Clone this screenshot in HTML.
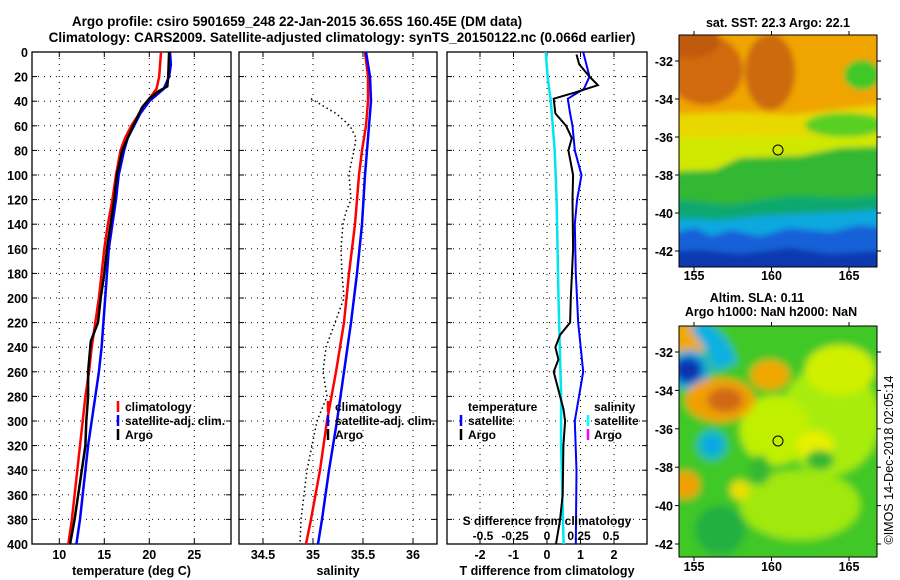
<!DOCTYPE html>
<html><head><meta charset="utf-8"><style>
html,body{margin:0;padding:0;background:#fff;}
svg{display:block;font-family:"Liberation Sans",sans-serif;font-weight:bold;}
</style></head><body>
<svg id="c" width="900" height="580" viewBox="0 0 900 580" xmlns="http://www.w3.org/2000/svg">
<defs>
<filter id="bl" x="-5%" y="-5%" width="110%" height="110%"><feGaussianBlur stdDeviation="3"/></filter>
<filter id="bl2" x="-5%" y="-5%" width="110%" height="110%"><feGaussianBlur stdDeviation="4"/></filter>
<clipPath id="cm1"><rect x="679" y="35" width="198" height="232"/></clipPath>
<clipPath id="cm2"><rect x="679" y="326" width="198" height="231"/></clipPath>
<clipPath id="cp1"><rect x="32" y="52" width="199" height="492"/></clipPath>
<clipPath id="cp2"><rect x="239" y="52" width="198" height="492"/></clipPath>
<clipPath id="cp3"><rect x="447" y="52" width="200" height="492"/></clipPath>
</defs>
<text x="297" y="26" font-size="13.5" text-anchor="middle">Argo profile: csiro 5901659_248 22-Jan-2015 36.65S 160.45E (DM data)</text>
<text x="342" y="42" font-size="13.5" text-anchor="middle">Climatology: CARS2009. Satellite-adjusted climatology: synTS_20150122.nc (0.066d earlier)</text>

<!-- SST map -->
<g clip-path="url(#cm1)">
<g filter="url(#bl)">
<rect x="660" y="15" width="240" height="280" fill="#f0a400"/>
<ellipse cx="705" cy="70" rx="38" ry="35" fill="#d06a10"/>
<ellipse cx="770" cy="72" rx="25" ry="38" fill="#cc6a10"/>
<ellipse cx="690" cy="40" rx="30" ry="18" fill="#c05a10"/>
<path d="M660 115 L740 112 L790 115 L877 105 L900 105 L900 180 L660 180Z" fill="#e8d800"/>
<path d="M660 138 L900 135 L900 180 L660 180Z" fill="#d0e800"/>
<ellipse cx="862" cy="75" rx="18" ry="15" fill="#40c828"/>
<ellipse cx="845" cy="125" rx="40" ry="12" fill="#58d020"/>
<path d="M660 172 L715 170 L740 158 L800 156 L840 148 L900 146 L900 300 L660 300Z" fill="#30b830"/>
<path d="M660 198 L730 205 L790 196 L850 198 L900 193 L900 300 L660 300Z" fill="#10a870"/>
<path d="M660 218 L720 220 L760 216 L800 214 L850 212 L900 208 L900 300 L660 300Z" fill="#10a8e0"/>
<path d="M660 236 L695 228 L712 236 L730 230 L760 236 L790 228 L830 232 L860 225 L900 230 L900 300 L660 300Z" fill="#1460d8"/>
<path d="M660 252 L700 250 L740 254 L790 248 L830 254 L900 250 L900 300 L660 300Z" fill="#0838b0"/>
</g>
<circle cx="778" cy="150" r="5" fill="none" stroke="#000" stroke-width="1"/>
</g>
<rect x="679" y="35" width="198" height="232" fill="none" stroke="#000"/>

<!-- SLA map -->
<g clip-path="url(#cm2)">
<g filter="url(#bl2)">
<rect x="660" y="305" width="240" height="270" fill="#40c828"/>
<ellipse cx="830" cy="420" rx="50" ry="55" fill="#a8ec10"/>
<ellipse cx="775" cy="430" rx="35" ry="35" fill="#c0f000"/>
<ellipse cx="800" cy="505" rx="60" ry="35" fill="#a0e810"/>
<ellipse cx="840" cy="370" rx="35" ry="25" fill="#d0f000"/>
<ellipse cx="815" cy="445" rx="18" ry="14" fill="#e8f000"/>
<ellipse cx="690" cy="338" rx="18" ry="18" fill="#f0a800"/>
<path d="M700 318 C722 330 732 345 737 362 L715 372 C710 355 700 340 690 330Z" fill="#10b0e0"/>
<ellipse cx="690" cy="370" rx="20" ry="20" fill="#10a8e0"/>
<ellipse cx="688" cy="370" rx="14" ry="13" fill="#1030b0"/>
<ellipse cx="770" cy="375" rx="20" ry="15" fill="#f0a800"/>
<ellipse cx="720" cy="400" rx="35" ry="22" fill="#f0a000"/>
<ellipse cx="725" cy="400" rx="18" ry="12" fill="#d06818"/>
<ellipse cx="712" cy="445" rx="15" ry="15" fill="#10b8c8"/>
<ellipse cx="712" cy="445" rx="7" ry="7" fill="#10a0f0"/>
<ellipse cx="685" cy="485" rx="15" ry="14" fill="#f0a000"/>
<ellipse cx="760" cy="470" rx="10" ry="15" fill="#30b830"/>
<ellipse cx="820" cy="460" rx="14" ry="10" fill="#30b830"/>
<ellipse cx="720" cy="530" rx="25" ry="25" fill="#20b040"/>
<ellipse cx="740" cy="490" rx="10" ry="10" fill="#e8e000"/>
</g>
<circle cx="778" cy="441" r="5" fill="none" stroke="#000" stroke-width="1"/>
</g>
<rect x="679" y="326" width="198" height="231" fill="none" stroke="#000"/>

<text x="778" y="27" font-size="12.5" text-anchor="middle">sat. SST: 22.3 Argo: 22.1</text>
<text x="757" y="302" font-size="12.5" text-anchor="middle">Altim. SLA: 0.11</text>
<text x="771" y="316" font-size="12.5" text-anchor="middle">Argo h1000: NaN h2000: NaN</text>
<text transform="translate(893,460) rotate(-90)" font-size="12.5" font-weight="normal" text-anchor="middle">©IMOS 14-Dec-2018 02:05:14</text>

<g id="plots"></g>

<!-- legends -->
<g font-size="12">
<line x1="118" y1="401" x2="118" y2="412" stroke="#f00" stroke-width="2.5"/><text x="125" y="411">climatology</text>
<line x1="118" y1="415" x2="118" y2="426" stroke="#00f" stroke-width="2.5"/><text x="125" y="425">satellite-adj. clim.</text>
<line x1="118" y1="429" x2="118" y2="440" stroke="#000" stroke-width="2.5"/><text x="125" y="439">Argo</text>
</g>
<g font-size="12">
<line x1="328" y1="401" x2="328" y2="412" stroke="#f00" stroke-width="2.5"/><text x="335" y="411">climatology</text>
<line x1="328" y1="415" x2="328" y2="426" stroke="#00f" stroke-width="2.5"/><text x="335" y="425">satellite-adj. clim.</text>
<line x1="328" y1="429" x2="328" y2="440" stroke="#000" stroke-width="2.5"/><text x="335" y="439">Argo</text>
</g>
<g font-size="12">
<text x="468" y="411">temperature</text>
<line x1="461" y1="415" x2="461" y2="426" stroke="#00f" stroke-width="2.5"/><text x="468" y="425">satellite</text>
<line x1="461" y1="429" x2="461" y2="440" stroke="#000" stroke-width="2.5"/><text x="468" y="439">Argo</text>
<text x="594" y="411">salinity</text>
<line x1="588" y1="415" x2="588" y2="426" stroke="#0ff" stroke-width="2.5"/><text x="594" y="425">satellite</text>
<line x1="588" y1="429" x2="588" y2="440" stroke="#f0f" stroke-width="2.5"/><text x="594" y="439">Argo</text>
</g>
<text x="547" y="525" font-size="12" text-anchor="middle">S difference from climatology</text>

<script>
// ---- data ----
const depthTicks = [0,20,40,60,80,100,120,140,160,180,200,220,240,260,280,300,320,340,360,380,400];
const tempTicks = [10,15,20,25];
const salTicks = [34.5,35,35.5,36];
const tdiffTicks = [-2,-1,0,1,2];
const sdiffTicks = [-0.5,-0.25,0,0.25,0.5];
const sdiffTickLabels = ['-0.5','-0.25','0','0.25','0.5'];
const lonTicks = [155,160,165];
const latTicks = [-32,-34,-36,-38,-40,-42];

const tClimDepth = [0,20,30,40,50,60,70,80,100,120,140,160,180,200,220,240,260,280,300,320,340,360,380,400];
const tClim = [21.3,21.1,20.8,19.8,18.9,18.0,17.3,16.8,16.3,15.9,15.4,15.0,14.7,14.4,14.0,13.6,13.3,12.9,12.6,12.3,12.0,11.7,11.4,11.0];
const tSatDepth = [0,10,20,30,40,50,60,70,80,100,120,140,160,180,200,220,240,260,280,300,320,340,360,380,400];
const tSat = [22.3,22.4,22.2,21.6,20.0,19.0,18.3,17.6,17.2,16.6,16.3,15.9,15.5,15.3,15.1,14.9,14.7,14.4,14.0,13.6,13.2,12.9,12.6,12.3,11.9];
const tArgoDepth = [0,20,28,32,38,45,60,80,100,120,140,160,180,200,220,235,260,280,300,320,340,360,380,400];
const tArgo = [22.2,22.1,22.0,21.0,20.0,19.2,18.2,17.0,16.4,16.1,15.7,15.3,15.0,14.6,14.3,13.5,13.2,13.2,13.0,12.9,12.5,12.1,11.7,11.2];

const sDepth = [0,20,40,60,80,100,140,180,220,260,300,340,380,400];
const sClim = [35.52,35.55,35.55,35.53,35.49,35.46,35.42,35.36,35.31,35.23,35.14,35.07,34.98,34.93];
const sSat = [35.53,35.57,35.58,35.56,35.54,35.52,35.49,35.44,35.38,35.31,35.24,35.16,35.09,35.05];
const sArgoDepth = [38,50,60,70,80,95,100,120,130,140,160,180,200,240,260,280,300,320,340,360,380,400];
const sArgo = [34.98,35.23,35.37,35.43,35.41,35.37,35.36,35.38,35.33,35.30,35.28,35.29,35.31,35.13,35.10,35.14,35.04,34.99,34.94,34.91,34.88,34.87];

const dSatDepth = [0,20,30,38,50,60,80,100,120,140,180,220,260,300,340,400];
const dSat = [1.08,1.27,1.1,0.62,0.69,0.76,0.83,1.03,0.90,0.83,0.86,0.93,1.08,0.83,0.88,0.86];
const dArgoDepth = [2,10,20,27,33,38,50,60,70,80,100,120,160,200,220,230,240,250,260,280,290,300,320,360,380,400];
const dArgo = [0.88,0.96,1.27,1.52,0.83,0.2,0.25,0.57,0.74,0.64,0.78,0.76,0.78,0.71,0.69,0.39,0.25,0.34,0.2,0.39,0.49,0.54,0.49,0.47,0.39,0.27];
const sSatDiffDepth = [0,20,40,80,120,200,280,320,400];
const sSatDiff = [-0.01,0.005,0.03,0.06,0.075,0.09,0.11,0.11,0.13];

// ---- scales ----
const Y0=52, Y1=544;
const yD = d => Y0 + d*(Y1-Y0)/400;
const xT = t => 59.3 + (t-10)*9;
const xS = s => 313 + (s-35)*100;
const xTd = t => 547 + t*33.5;
const xSd = s => 547 + s*128;

const NS='http://www.w3.org/2000/svg';
const root=document.getElementById('plots');
function mk(tag, attrs, parent){const e=document.createElementNS(NS,tag);for(const k in attrs)e.setAttribute(k,attrs[k]);(parent||root).appendChild(e);return e;}

function panel(name,x0,x1,xs,ticks,labels,title,clip,yLabels){
  const g=mk('g',{});
  
  
  ticks.forEach((t,i)=>{
    const gx=mk('line',{x1:xs(t),x2:xs(t),y1:Y0,y2:Y1,stroke:'#000','stroke-width':1,'stroke-dasharray':'1,5'},g);
    
    
    mk('line',{x1:xs(t),x2:xs(t),y1:Y1,y2:Y1-5,stroke:'#000'},g);
    mk('line',{x1:xs(t),x2:xs(t),y1:Y0,y2:Y0+5,stroke:'#000'},g);
    const tl=mk('text',{x:xs(t),y:Y1+15,'font-size':12.5,'text-anchor':'middle'},g);
    tl.textContent=labels[i];
    
    
  });
  depthTicks.forEach(d=>{
    if(d>0&&d<400){
      const gy=mk('line',{x1:x0,x2:x1,y1:yD(d),y2:yD(d),stroke:'#000','stroke-width':1,'stroke-dasharray':'1,5'},g);
      
      
    }
    mk('line',{x1:x0,x2:x0+5,y1:yD(d),y2:yD(d),stroke:'#000'},g);
    mk('line',{x1:x1,x2:x1-5,y1:yD(d),y2:yD(d),stroke:'#000'},g);
    if(yLabels){
      const yl=mk('text',{x:x0-4,y:yD(d)+5,'font-size':12.5,'text-anchor':'end'},g);
      yl.textContent=d;
      
      
    }
  });
  const fr=mk('rect',{x:x0,y:Y0,width:x1-x0,height:Y1-Y0,fill:'none',stroke:'#000','stroke-width':1.3},g);
  
  
  const at=mk('text',{x:(x0+x1)/2,y:575,'font-size':12.5,'text-anchor':'middle'},g);
  at.textContent=title;
  
  
  return g;
}
function line(g,xs,vals,depths,color,w,name,dash,clip){
  const pts=vals.map((v,i)=>xs(v).toFixed(1)+','+yD(depths[i]).toFixed(1)).join(' ');
  const p=mk('polyline',{points:pts,fill:'none',stroke:color,'stroke-width':w,'clip-path':'url(#'+clip+')'},g);
  if(dash)p.setAttribute('stroke-dasharray',dash);
  
  
}

const g1=panel('temperature-panel',32,231,xT,tempTicks,tempTicks.map(String),'temperature (deg C)','cp1',true);
line(g1,xT,tClim,tClimDepth,'#f00',2.5,'temperature-climatology-line',null,'cp1');
line(g1,xT,tSat,tSatDepth,'#00f',2.5,'temperature-satellite-line',null,'cp1');
line(g1,xT,tArgo,tArgoDepth,'#000',2.5,'temperature-argo-line',null,'cp1');

const g2=panel('salinity-panel',239,437,xS,salTicks,salTicks.map(String),'salinity','cp2',false);
line(g2,xS,sClim,sDepth,'#f00',2.5,'salinity-climatology-line',null,'cp2');
line(g2,xS,sSat,sDepth,'#00f',2.5,'salinity-satellite-line',null,'cp2');
line(g2,xS,sArgo,sArgoDepth,'#000',1.5,'salinity-argo-line','1.5,3','cp2');

const g3=panel('difference-panel',447,647,xTd,tdiffTicks,tdiffTicks.map(String),'T difference from climatology','cp3',false);
line(g3,xSd,sSatDiff,sSatDiffDepth,'#00e5f0',2.5,'salinity-satellite-diff-line',null,'cp3');
line(g3,xTd,dSat,dSatDepth,'#00f',2,'temperature-satellite-diff-line',null,'cp3');
line(g3,xTd,dArgo,dArgoDepth,'#000',2,'temperature-argo-diff-line',null,'cp3');
sdiffTicks.forEach((s,i)=>{
  const t=mk('text',{x:xSd(s),y:540,'font-size':12,'text-anchor':'middle'},g3);
  t.textContent=sdiffTickLabels[i];
  
  
});

// map axes
const xLon = l => 694 + (l-155)*15.5;
const yLat1 = l => 61 + (-32-l)*19;
const yLat2 = l => 352 + (-32-l)*19.2;
[[35,267,yLat1,280],[326,557,yLat2,571]].forEach(([t,b,yl,ly])=>{
  lonTicks.forEach(l=>{
    mk('line',{x1:xLon(l),x2:xLon(l),y1:b,y2:b+4,stroke:'#000'});
    mk('line',{x1:xLon(l),x2:xLon(l),y1:t,y2:t-4,stroke:'#000'});
    const tx=mk('text',{x:xLon(l),y:ly,'font-size':12.5,'text-anchor':'middle'});
    tx.textContent=l;
    
    
  });
  latTicks.forEach(l=>{
    mk('line',{x1:679,x2:675,y1:yl(l),y2:yl(l),stroke:'#000'});
    mk('line',{x1:877,x2:881,y1:yl(l),y2:yl(l),stroke:'#000'});
    const tx=mk('text',{x:673,y:yl(l)+5,'font-size':12.5,'text-anchor':'end'});
    tx.textContent=l;
    
    
  });
});
</script>
</svg>
</body></html>
